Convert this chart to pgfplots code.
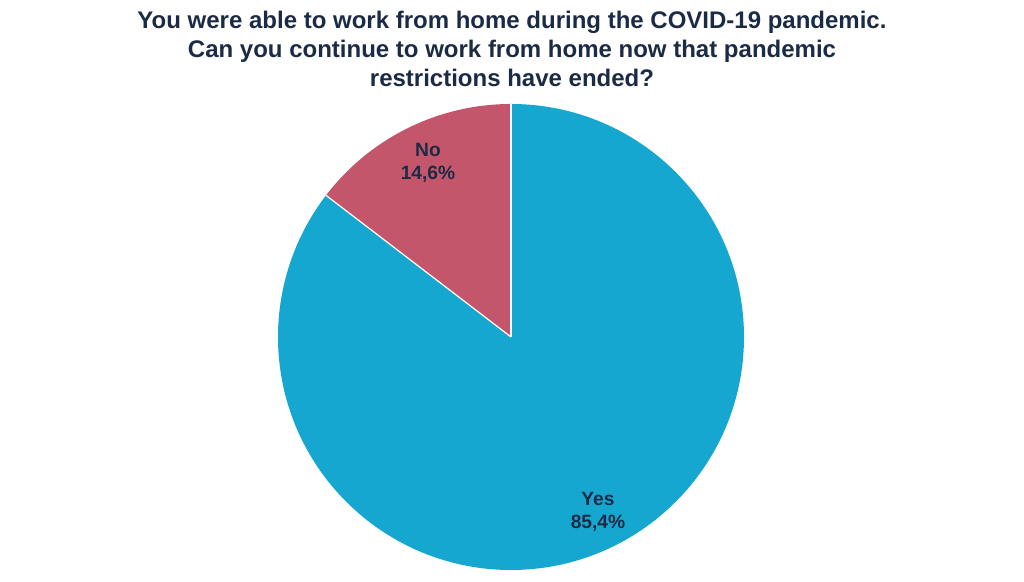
\documentclass[border=0pt]{standalone}
\usepackage{pgfplots}
\pgfplotsset{compat=1.18}
\usepackage{fontspec}
\setmainfont{Liberation Sans}
\definecolor{yescol}{HTML}{16A7D1}
\definecolor{nocol}{HTML}{C4566C}
\definecolor{txt}{HTML}{1C2B45}
\begin{document}
\begin{tikzpicture}
% shares in percent
\def\yes{85.4}
\def\no{14.6}
\begin{axis}[
  scale only axis,
  width=512pt, height=291pt,
  xmin=0, xmax=1024, ymin=0, ymax=582,
  axis lines=none,
  clip=false,
]
\pgfmathsetmacro\split{90-3.6*\yes}
\pgfmathsetmacro\sx{511+233*cos(\split)}
\pgfmathsetmacro\sy{245+233*sin(\split)}
% Yes slice, clockwise from the top
\fill[yescol] (axis cs:511,245) -- (axis cs:511,478) arc[start angle=90, end angle=\split, radius=233] -- cycle;
% No slice
\fill[nocol] (axis cs:511,245) -- (axis cs:511,478) arc[start angle=90, end angle=\split+360, radius=233] -- cycle;
\draw[white, line width=0.6pt] (axis cs:511,245) -- (axis cs:511,478);
\draw[white, line width=0.6pt] (axis cs:511,245) -- (axis cs:\sx,\sy);

\node[font=\bfseries\fontsize{9.6}{11.5}\selectfont, text=txt, align=center] at (axis cs:428,419) {No\\14,6\%};
\node[font=\bfseries\fontsize{9.6}{11.5}\selectfont, text=txt, align=center] at (axis cs:598,70) {Yes\\85,4\%};

\node[font=\bfseries\fontsize{12}{14.6}\selectfont, text=txt, align=center] at (axis cs:512,533)
  {You were able to work from home during the COVID-19 pandemic.\\Can you continue to work from home now that pandemic\\restrictions have ended?};
\end{axis}
\useasboundingbox (current axis.south west) rectangle (current axis.north east);
\end{tikzpicture}
\end{document}
